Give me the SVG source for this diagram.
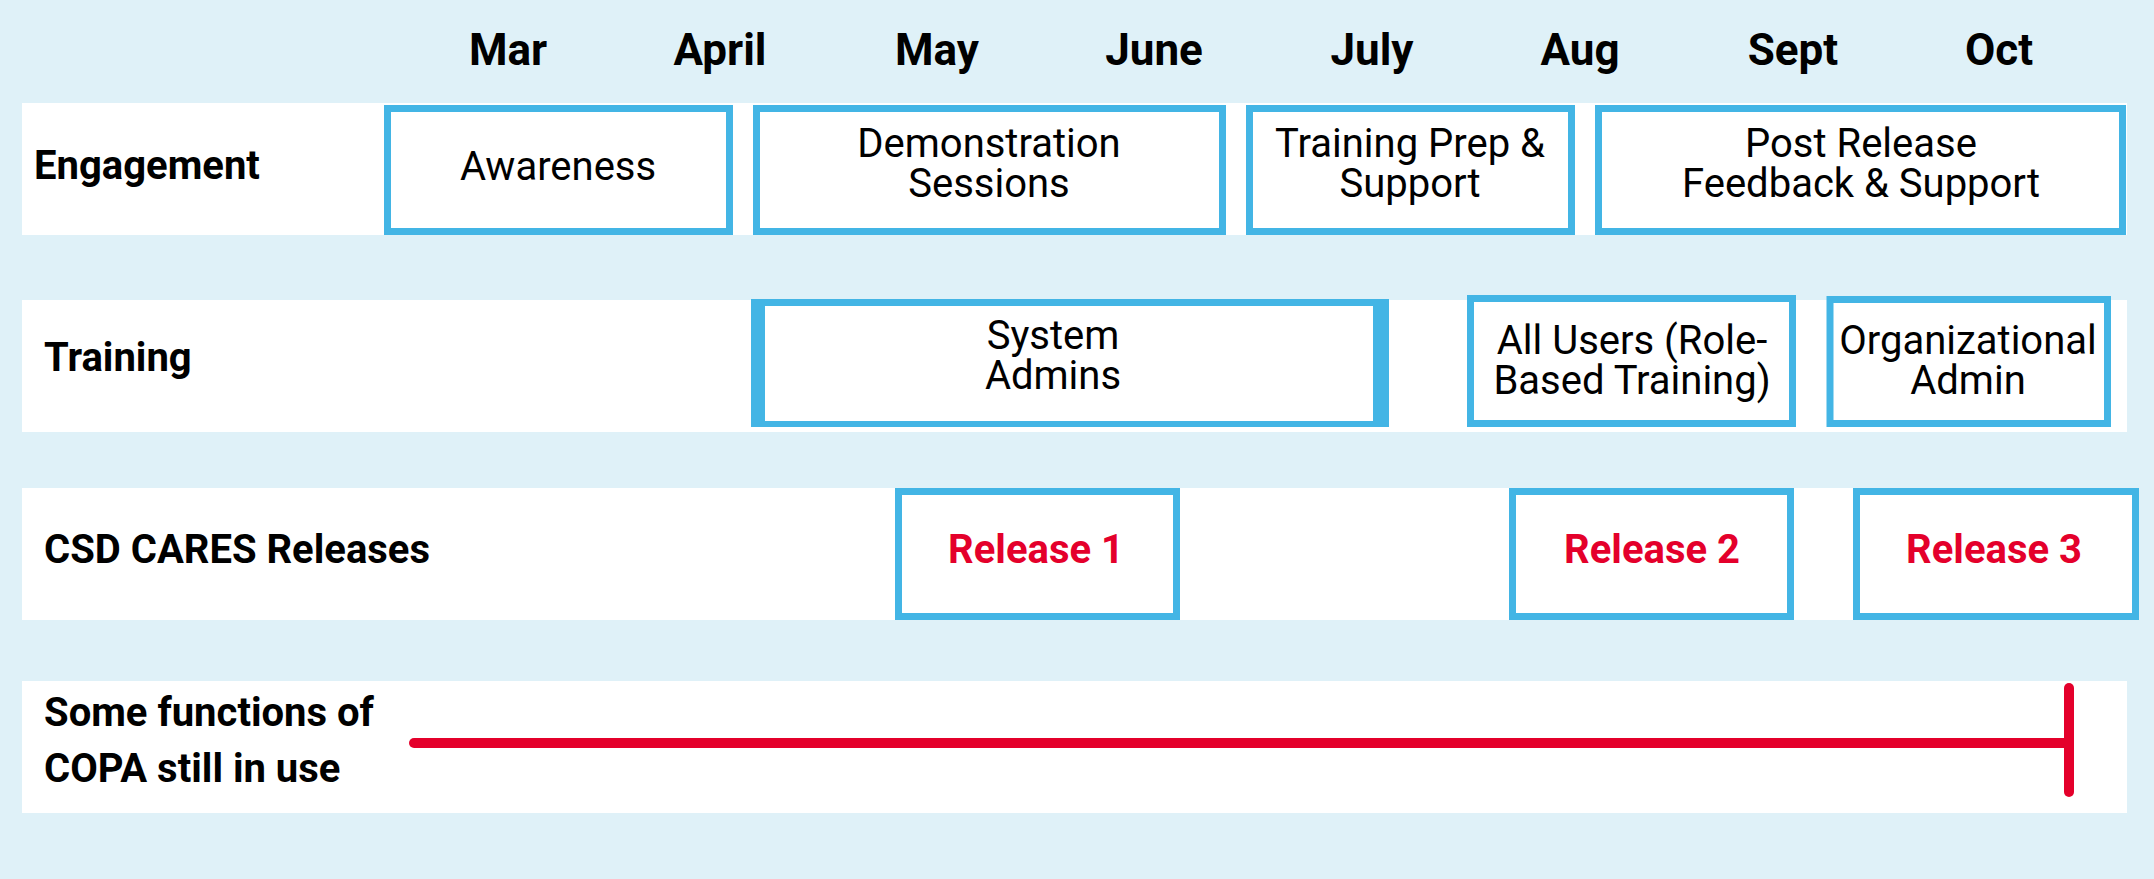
<svg xmlns="http://www.w3.org/2000/svg" width="2154" height="879" viewBox="0 0 2154 879">
  <style>
    .band { fill: #ffffff; }
    .box { fill: #ffffff; stroke: #43b5e5; stroke-width: 7; }
    .month { font-family: Roboto, "Liberation Sans", sans-serif; font-weight: 700; font-size: 44px; fill: #000; text-anchor: middle; }
    .lane { font-family: Roboto, "Liberation Sans", sans-serif; font-weight: 700; font-size: 40px; fill: #000; }
    .txt { font-family: Roboto, "Liberation Sans", sans-serif; font-weight: 400; font-size: 40px; fill: #000; text-anchor: middle; }
    .rel { font-family: Roboto, "Liberation Sans", sans-serif; font-weight: 700; font-size: 40px; fill: #e4002b; text-anchor: middle; }
    .bar { stroke: #e4002b; stroke-width: 10; stroke-linecap: round; fill: none; }
  </style>

  <!-- page background -->
  <rect x="0" y="0" width="2154" height="879" fill="#dff1f8"/>

  <!-- month header -->
  <g id="months">
    <text class="month" x="508" y="65">Mar</text>
    <text class="month" x="720" y="65">April</text>
    <text class="month" x="937" y="65">May</text>
    <text class="month" x="1154" y="65">June</text>
    <text class="month" x="1372" y="65">July</text>
    <text class="month" x="1580" y="65">Aug</text>
    <text class="month" x="1793" y="65">Sept</text>
    <text class="month" x="1999" y="65">Oct</text>
  </g>

  <!-- swimlane bands -->
  <g id="lanes">
    <rect class="band" x="22" y="103" width="2105" height="132"/>
    <rect class="band" x="22" y="300" width="2105" height="132"/>
    <rect class="band" x="22" y="488" width="2105" height="132"/>
    <rect class="band" x="22" y="681" width="2105" height="132"/>
    <text class="lane" x="34" y="179">Engagement</text>
    <text class="lane" x="44" y="371">Training</text>
    <text class="lane" x="44" y="563">CSD CARES Releases</text>
    <text class="lane" x="44" y="726">Some functions of</text>
    <text class="lane" x="44" y="782">COPA still in use</text>
  </g>

  <!-- Engagement -->
  <g id="awareness">
    <rect class="box" x="387.5" y="108.5" width="342" height="123"/>
    <text class="txt" x="558" y="180">Awareness</text>
  </g>
  <g id="demonstration">
    <rect class="box" x="756.5" y="108.5" width="466" height="123"/>
    <text class="txt" x="989" y="157">Demonstration</text>
    <text class="txt" x="989" y="197">Sessions</text>
  </g>
  <g id="training-prep">
    <rect class="box" x="1249.5" y="108.5" width="322" height="123"/>
    <text class="txt" x="1410" y="157">Training Prep &amp;</text>
    <text class="txt" x="1410" y="197">Support</text>
  </g>
  <g id="post-release">
    <rect class="box" x="1598.5" y="108.5" width="524" height="123"/>
    <text class="txt" x="1861" y="157">Post Release</text>
    <text class="txt" x="1861" y="197">Feedback &amp; Support</text>
  </g>

  <!-- Training -->
  <g id="system-admins">
    <path fill="#43b5e5" fill-rule="evenodd" d="M751 299H1389V427H751Z M765 306V421H1373V306Z"/>
    <path fill="#ffffff" d="M765 306H1373V421H765Z"/>
    <text class="txt" x="1053" y="349">System</text>
    <text class="txt" x="1053" y="389">Admins</text>
  </g>
  <g id="all-users">
    <rect class="box" x="1470.5" y="298.5" width="322" height="125"/>
    <text class="txt" x="1632" y="354">All Users (Role-</text>
    <text class="txt" x="1632" y="394">Based Training)</text>
  </g>
  <g id="org-admin">
    <rect class="box" x="1830" y="299.5" width="277.5" height="124"/>
    <text class="txt" x="1968" y="354">Organizational</text>
    <text class="txt" x="1968" y="394">Admin</text>
  </g>

  <!-- Releases -->
  <g id="release-1">
    <rect class="box" x="898.5" y="491.5" width="278" height="125"/>
    <text class="rel" x="1036" y="563">Release 1</text>
  </g>
  <g id="release-2">
    <rect class="box" x="1512.5" y="491.5" width="278" height="125"/>
    <text class="rel" x="1652" y="563">Release 2</text>
  </g>
  <g id="release-3">
    <rect class="box" x="1856.5" y="491.5" width="279" height="125"/>
    <text class="rel" x="1994" y="563">Release 3</text>
  </g>

  <!-- COPA usage span -->
  <g id="connectors">
    <line class="bar" x1="414" y1="743" x2="2069" y2="743"/>
    <line class="bar" x1="2069" y1="688" x2="2069" y2="792"/>
  </g>
</svg>
